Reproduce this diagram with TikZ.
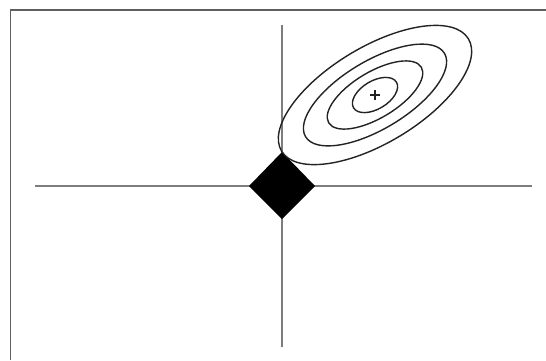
\documentclass[tikz,border=0pt]{standalone}
\usepackage{tikz}
\usetikzlibrary{calc}
\definecolor{axisgray}{RGB}{125,125,125}
\definecolor{framegray}{RGB}{95,95,95}
\definecolor{contourgray}{RGB}{35,35,35}

\begin{document}
\begin{tikzpicture}[
    x=0.02cm, y=0.02cm,
    axisline/.style={draw=axisgray, line width=0.6pt},
    contour/.style={draw=contourgray, line width=0.8pt},
    frameline/.style={draw=framegray, line width=1.1pt},
]
\useasboundingbox (0,0) rectangle (546,360);
\coordinate (O) at (282,174);
\coordinate (wopt) at (375,265);

% frame (only top and left edges show)
\draw[frameline] (10.5,0) -- (10.5,350) -- (546,350);

% axes
\draw[axisline] (35,174) -- (532,174);
\draw[axisline] (282,13) -- (282,335);

% l1 ball
\fill[black] ($(O)+(-33,0)$) -- ($(O)+(0,34)$) -- ($(O)+(33,0)$) -- ($(O)+(0,-33)$) -- cycle;

% level sets of the loss
\foreach \ra/\rb in {109/48, 81/34, 54/23, 25/14}
  \draw[contour, rotate around={31:(wopt)}] (wopt) ellipse [x radius=\ra, y radius=\rb];

% minimum
\draw[contourgray, line width=0.6pt] ($(wopt)+(-5,0)$) -- ($(wopt)+(5,0)$);
\draw[contourgray, line width=0.6pt] ($(wopt)+(0,-5)$) -- ($(wopt)+(0,5)$);
\end{tikzpicture}
\end{document}
